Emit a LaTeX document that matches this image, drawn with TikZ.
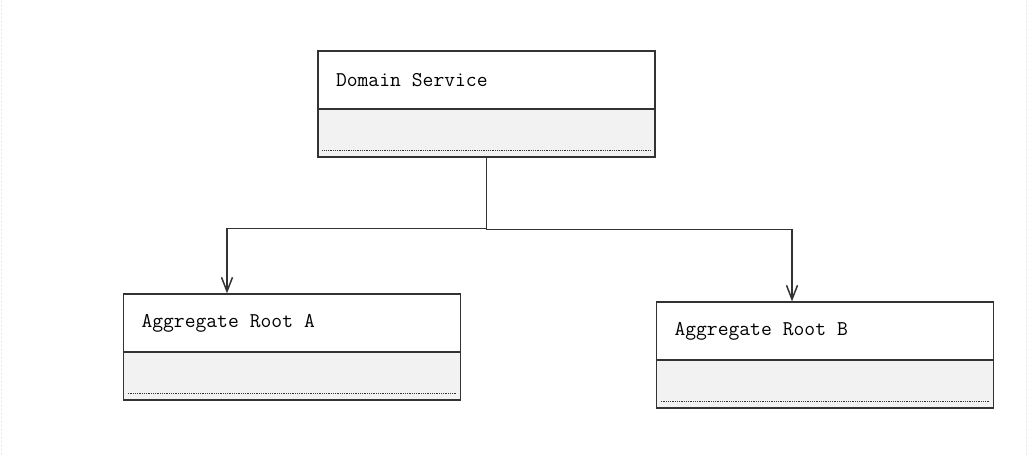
\documentclass[tikz,border=0pt]{standalone}
\usepackage{fontspec}
\usetikzlibrary{positioning,arrows.meta,calc}
\definecolor{boxline}{HTML}{333333}
\definecolor{bodygray}{HTML}{F2F2F2}
\definecolor{edgegray}{HTML}{EEEEEE}
\newcommand\classfont{\ttfamily\fontsize{21}{24}\selectfont}
\newcommand\classspace{\spaceskip=11pt\relax}
\tikzset{
  classhead/.style={draw=boxline, line width=1.3pt, fill=white, rectangle,
    text width=301pt, inner xsep=18pt, inner ysep=0pt, minimum height=58pt,
    align=left, font=\classfont, execute at begin node=\classspace},
  classbody/.style={draw=boxline, line width=1.3pt, fill=bodygray, rectangle,
    minimum width=337pt, minimum height=48pt, inner sep=0pt},
  dotline/.style={boxline, line width=0.8pt, dash pattern=on 1pt off 0.8pt},
  link/.style={boxline, line width=1.5pt, -{Straight Barb[length=14pt,width=11pt]}}
}
\begin{document}
\begin{tikzpicture}[x=1pt,y=-1pt]
\useasboundingbox (0,0) rectangle (1032,455);
\draw[edgegray, line width=1pt, dash pattern=on 3pt off 1pt] (1.5,0) -- (1.5,455);
\draw[edgegray, line width=1pt, dash pattern=on 3pt off 1pt] (1026,0) -- (1026,455);
% class boxes
\node[classhead] (ds) at (486.5,80) {Domain Service};
\node[classbody, below=-1.3pt of ds] (dsbody) {};
\node[classhead] (rootA) at (292,323) {Aggregate Root A};
\node[classbody, below=-1.3pt of rootA] (rootAbody) {};
\node[classhead] (rootB) at (825,331) {Aggregate Root B};
\node[classbody, below=-1.3pt of rootB] (rootBbody) {};
% dotted separators
\foreach \n in {dsbody,rootAbody,rootBbody}
  \draw[dotline] ([xshift=5pt,yshift=7pt]\n.south west) -- ([xshift=-5pt,yshift=7pt]\n.south east);
% connectors
\draw[link] (dsbody.south) -- ++(0,71) -| ([xshift=-65pt]rootA.north);
\draw[link] (dsbody.south) -- ++(0,72) -| ([xshift=-33pt]rootB.north);
\end{tikzpicture}
\end{document}
